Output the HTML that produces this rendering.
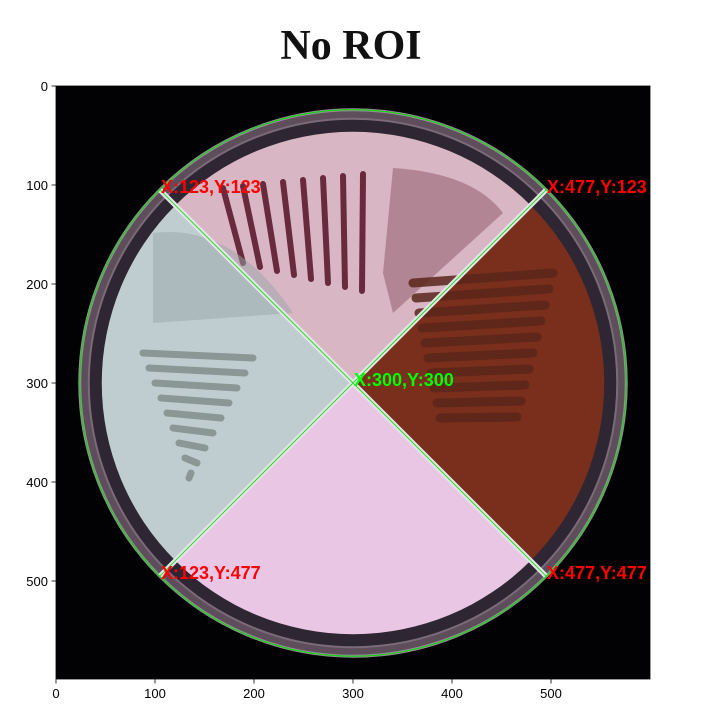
<!DOCTYPE html>
<html><head><meta charset="utf-8"><style>
html,body{margin:0;padding:0;background:#fff;}
svg{display:block;}
.sans{font-family:"Liberation Sans",sans-serif;}
.serif{font-family:"Liberation Serif",serif;}
</style></head><body>
<svg id="chart" width="703" height="723" viewBox="0 0 703 723" xmlns="http://www.w3.org/2000/svg">
<defs>
<clipPath id="axclip"><rect x="56" y="86" width="594" height="593"/></clipPath>
</defs>
<text class="serif" x="351" y="59" text-anchor="middle" font-size="42" font-weight="bold" fill="#111">No ROI</text>
<g id="plot" clip-path="url(#axclip)"></g>
<g id="axes"></g>
</svg>
<script>
const xTicks=[0,100,200,300,400,500];
const yTicks=[0,100,200,300,400,500];
const pointX=[105,495,300,105,495];
const pointY=[105,105,300,495,495];
const pointLabels=["X:123,Y:123","X:477,Y:123","X:300,Y:300","X:123,Y:477","X:477,Y:477"];
const pointColors=["#ff0000","#ff0000","#00ff00","#ff0000","#ff0000"];
const plateCenter=[300,300];
const plateRadius=[276];

const X0=56,Y0=86,S=0.99;
function sx(v){return X0+v*S;}
function sy(v){return Y0+v*S;}
const NS="http://www.w3.org/2000/svg";
function mk(tag,attrs,parent){const e=document.createElementNS(NS,tag);for(const k in attrs)e.setAttribute(k,attrs[k]);parent.appendChild(e);return e;}
const plot=document.getElementById('plot');
const axes=document.getElementById('axes');

const bg=mk('rect',{x:56,y:86,width:594,height:593,fill:'#020204'},plot);



const cx=sx(plateCenter[0]),cy=sy(plateCenter[1]),R=plateRadius[0]*S;
const rim=mk('circle',{cx:cx,cy:cy,r:R,fill:'#5e4e5c',stroke:'#9a8a98','stroke-width':3},plot);


mk('circle',{cx:cx,cy:cy,r:R-9,fill:'#2e2632',stroke:'#7a6a7a','stroke-width':2},plot);

const quads=[
 {a0:-135,a1:-45,fill:'#d9b6c4',name:'quadrant-top'},
 {a0:-45,a1:45,fill:'#7a2e1c',name:'quadrant-right'},
 {a0:45,a1:135,fill:'#e8c6e4',name:'quadrant-bottom'},
 {a0:135,a1:225,fill:'#bfcdd1',name:'quadrant-left'}
];
const r2=R-22;
quads.forEach(q=>{
 const a0=q.a0*Math.PI/180,a1=q.a1*Math.PI/180;
 const d=`M${cx},${cy} L${cx+r2*Math.cos(a0)},${cy+r2*Math.sin(a0)} A${r2},${r2} 0 0 1 ${cx+r2*Math.cos(a1)},${cy+r2*Math.sin(a1)} Z`;
 const p=mk('path',{d:d,fill:q.fill},plot);
 
 
});
const tex=mk('g',{},plot);


mk('path',{d:`M${cx+30},${cy-110} L${cx+40},${cy-215} Q${cx+120},${cy-210} ${cx+150},${cy-170} L${cx+40},${cy-70} Z`,fill:'#a47484',opacity:0.75},tex);
for(let i=0;i<8;i++){mk('line',{x1:cx-130+i*20,y1:cy-195+i*(-2),x2:cx-110+i*17,y2:cy-120+i*4,stroke:'#6a2a3e','stroke-width':6,'stroke-linecap':'round'},tex);}
for(let i=0;i<10;i++){mk('line',{x1:cx+60+i*3,y1:cy-100+i*15,x2:cx+200-i*4,y2:cy-110+i*16,stroke:'#5a261a','stroke-width':9,'stroke-linecap':'round',opacity:0.85},tex);}
for(let i=0;i<9;i++){mk('line',{x1:cx-210+i*6,y1:cy-30+i*15,x2:cx-100-i*8,y2:cy-25+i*15,stroke:'#7e8a86','stroke-width':7,'stroke-linecap':'round',opacity:0.8},tex);}
mk('path',{d:`M${cx-200},${cy-150} Q${cx-120},${cy-160} ${cx-60},${cy-70} L${cx-200},${cy-60} Z`,fill:'#9aa6aa',opacity:0.5},tex);

const div=mk('g',{},plot);


mk('line',{x1:sx(pointX[0]),y1:sy(pointY[0]),x2:sx(pointX[4]),y2:sy(pointY[4]),stroke:'#e8e4ec','stroke-width':5},div);
mk('line',{x1:sx(pointX[1]),y1:sy(pointY[1]),x2:sx(pointX[3]),y2:sy(pointY[3]),stroke:'#e8e4ec','stroke-width':5},div);
mk('line',{x1:sx(pointX[0]),y1:sy(pointY[0]),x2:sx(pointX[4]),y2:sy(pointY[4]),stroke:'#22dd22','stroke-width':1},div);
mk('line',{x1:sx(pointX[1]),y1:sy(pointY[1]),x2:sx(pointX[3]),y2:sy(pointY[3]),stroke:'#22dd22','stroke-width':1},div);

const gc=mk('circle',{cx:cx,cy:cy,r:R,fill:'none',stroke:'#00e000','stroke-width':1},plot);



pointX.forEach((v,i)=>{
 const t=mk('text',{class:'sans',x:sx(v)+1,y:sy(pointY[i])+3,fill:pointColors[i],'font-size':18,'font-weight':'bold'},plot);
 t.textContent=pointLabels[i];
 
 
});

const frame=mk('rect',{x:56,y:86,width:594,height:593,fill:'none',stroke:'#000','stroke-width':0.8},axes);


xTicks.forEach(v=>{
 const x=sx(v);
 mk('line',{x1:x,y1:679,x2:x,y2:683.5,stroke:'#000','stroke-width':0.8},axes);
 const t=mk('text',{class:'sans',x:x,y:698,'text-anchor':'middle','font-size':13,fill:'#000'},axes);
 t.textContent=v;
 
 
});
yTicks.forEach(v=>{
 const y=sy(v);
 mk('line',{x1:51.5,y1:y,x2:56,y2:y,stroke:'#000','stroke-width':0.8},axes);
 const t=mk('text',{class:'sans',x:48,y:y+5,'text-anchor':'end','font-size':13,fill:'#000'},axes);
 t.textContent=v;
 
 
});
</script>
</body></html>
